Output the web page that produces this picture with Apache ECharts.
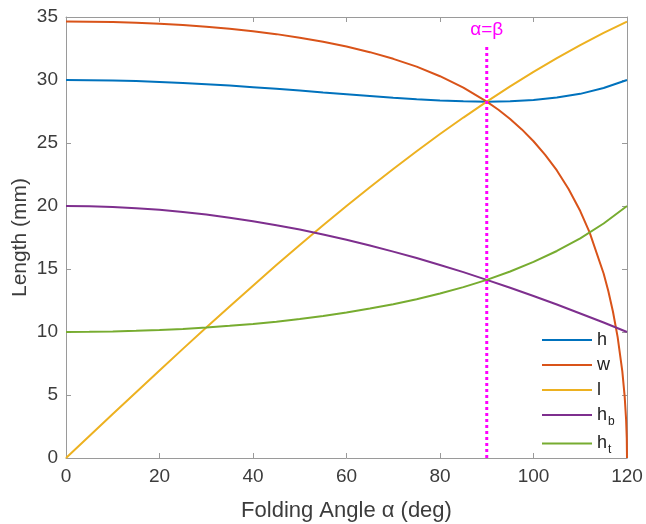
<!DOCTYPE html>
<html>
<head>
<meta charset="utf-8">
<script src="https://cdn.jsdelivr.net/npm/echarts@6/dist/echarts.min.js"></script>
<style>html,body{margin:0;padding:0;background:#fff}#c{width:646px;height:524px}</style>
</head>
<body>
<div id="c"></div>
<script>
// ---- data ----
const angles = [0,5,10,15,20,25,30,35,40,45,50,55,60,65,70,75,80,85,90,95,100,105,110,115,120];
const hVals  = [30.00,29.99,29.96,29.92,29.85,29.77,29.67,29.56,29.43,29.30,29.16,29.01,28.87,28.73,28.59,28.47,28.37,28.31,28.28,28.31,28.42,28.61,28.90,29.36,30.00];
const lVals  = [0,1.74,3.49,5.22,6.95,8.66,10.35,12.03,13.68,15.31,16.90,18.47,20.00,21.49,22.94,24.35,25.71,27.02,28.28,29.49,30.64,31.73,32.77,33.74,34.64];
const hbVals = [20.00,19.98,19.92,19.83,19.70,19.53,19.32,19.07,18.79,18.48,18.13,17.74,17.32,16.87,16.38,15.87,15.32,14.75,14.14,13.51,12.86,12.18,11.47,10.75,10.00];
const htVals = [10.00,10.01,10.04,10.09,10.15,10.24,10.35,10.49,10.64,10.82,11.03,11.27,11.55,11.86,12.21,12.60,13.05,13.56,14.14,14.80,15.56,16.43,17.43,18.61,20.00];
const wAngles = [0,5,10,15,20,25,30,35,40,45,50,55,60,65,70,75,80,85,90,92.5,95,97.5,100,102.5,105,107.5,110,112,115,116,117,118,119,119.5,119.8,119.95,120];
const wVals   = [34.64,34.63,34.60,34.54,34.46,34.36,34.22,34.06,33.87,33.64,33.36,33.04,32.66,32.21,31.68,31.06,30.30,29.40,28.28,27.64,26.90,26.08,25.14,24.06,22.82,21.35,19.60,17.91,14.64,13.25,11.61,9.59,6.87,4.89,3.11,1.55,0];
const markerX = [90, 90];
const markerY = [0, 32.7];
const markerLabel = 'α=β';
const xTicks = {min: 0, max: 120, interval: 20};
const yTicks = {min: 0, max: 35, interval: 5};
const seriesNames = ['h','w','l','h_b','h_t'];
const colors = ['#0072BD','#D95319','#EDB120','#7E2F8E','#77AC30'];

const pairs = (xs, ys) => xs.map((x, i) => [x, ys[i]]);
const font = "'Liberation Sans', Arial, Helvetica, sans-serif";
const axisColor = '#9a9a9a';
const labelColor = '#3c3c3c';

const chart = echarts.init(document.getElementById('c'), null, {renderer: 'canvas'});
const mkLine = (name, data, color) => ({
  name, type: 'line', data, showSymbol: false, symbol: 'none',
  lineStyle: {color, width: 2}, itemStyle: {color}, z: 3
});
const valsList = [pairs(angles, hVals), pairs(wAngles, wVals), pairs(angles, lVals), pairs(angles, hbVals), pairs(angles, htVals)];
const series = seriesNames.map((n, i) => mkLine(n, valsList[i], colors[i]));
series.push({
  name: 'ab', type: 'line', data: pairs(markerX, markerY), showSymbol: false, symbol: 'none', z: 4,
  lineStyle: {color: '#ff00ff', width: 3, type: [3, 3]}, itemStyle: {color: '#ff00ff'},
  markPoint: {
    symbol: 'circle', symbolSize: 1, itemStyle: {color: 'rgba(0,0,0,0)'},
    data: [{coord: [markerX[1], markerY[1]], value: markerLabel}],
    label: {show: true, position: 'top', distance: 6, formatter: markerLabel,
      color: '#ff00ff', fontSize: 19, fontFamily: font}
  }
});

const baseAxis = {
  axisLine: {show: true, onZero: false, lineStyle: {color: axisColor, width: 1}},
  axisTick: {show: true, inside: true, length: 5, lineStyle: {color: axisColor}},
  splitLine: {show: false},
};

chart.setOption({
  animation: false,
  textStyle: {fontFamily: font},
  grid: {left: 66, right: 19, top: 17, bottom: 66, containLabel: false, outerBoundsMode: 'none'},
  xAxis: [
    Object.assign({type: 'value', position: 'bottom', ...xTicks,
      name: 'Folding Angle α (deg)', nameLocation: 'middle', nameGap: 42, nameMoveOverlap: false,
      nameTextStyle: {fontSize: 22, color: labelColor, fontFamily: font},
      axisLabel: {fontSize: 19, color: labelColor, margin: 9, fontFamily: font}}, baseAxis),
    Object.assign({type: 'value', position: 'top', ...xTicks, axisLabel: {show: false}}, baseAxis)
  ],
  yAxis: [
    Object.assign({type: 'value', position: 'left', ...yTicks,
      name: 'Length (mm)', nameLocation: 'middle', nameGap: 35, nameMoveOverlap: false,
      nameTextStyle: {fontSize: 21, color: labelColor, fontFamily: font},
      axisLabel: {fontSize: 19, color: labelColor, margin: 8, fontFamily: font}}, baseAxis),
    Object.assign({type: 'value', position: 'right', ...yTicks, axisLabel: {show: false}}, baseAxis)
  ],
  legend: {
    data: seriesNames, orient: 'vertical', left: 537, top: 326,
    itemWidth: 50, itemHeight: 14, itemGap: 7, icon: 'path://M0,6 L50,6 L50,8 L0,8 Z',
    textStyle: {fontSize: 18, color: '#222', fontFamily: font,
      rich: {m: {fontSize: 18, color: '#222', fontFamily: font},
             s: {fontSize: 12, color: '#222', fontFamily: font, padding: [13, 0, 0, 1]}}},
    formatter: n => n.indexOf('_') >= 0 ? '{m|' + n.split('_')[0] + '}{s|' + n.split('_')[1] + '}' : '{m|' + n + '}'
  },
  series
});
</script>
</body>
</html>
